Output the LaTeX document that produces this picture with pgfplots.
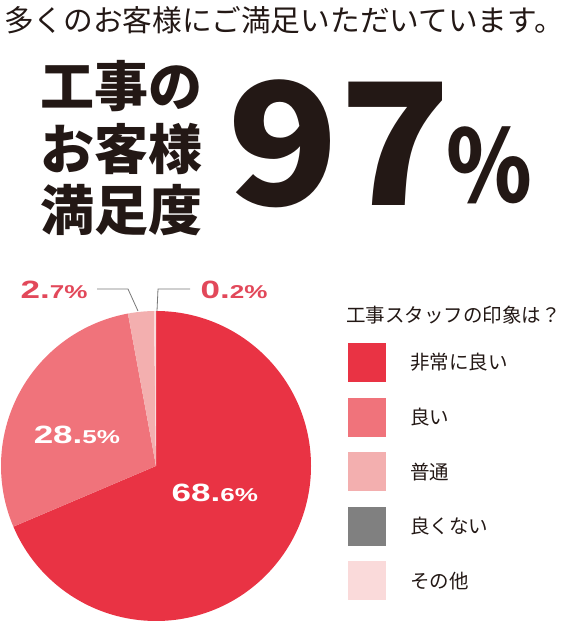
\documentclass[border=0pt]{standalone}
\usepackage{pgfplots}
\usepackage{pgfplotstable}
\pgfplotsset{compat=1.18}
\usepackage{fontspec}
\setmainfont{Noto Sans CJK JP}
\newfontfamily\jpblack[FakeStretch=1.08]{Noto Sans CJK JP Black}
\newfontfamily\jpnarrow[FakeStretch=0.87]{Noto Sans CJK JP}
\newfontfamily\wide[FakeStretch=1.4]{Liberation Sans}

\definecolor{cVery}{RGB}{233,51,68}
\definecolor{cGood}{RGB}{240,115,123}
\definecolor{cFair}{RGB}{243,175,175}
\definecolor{cBad}{RGB}{128,128,128}
\definecolor{cOther}{RGB}{250,218,218}
\definecolor{ink}{RGB}{35,24,21}
\definecolor{pctpink}{RGB}{226,72,90}
\definecolor{leader}{RGB}{120,120,120}

% share of answers, drawn clockwise from 12 o'clock
\pgfplotstableread{
share col
68.6 cVery
28.5 cGood
2.7 cFair
0.2 cOther
}\piedata

\newcommand\fs[1]{\fontsize{#1}{#1}\selectfont}
\newcommand\pct[2]{{\wide\bfseries\fs{25}#1}{\wide\bfseries\fs{18.6}#2}}

\begin{document}
\begin{tikzpicture}[x=1pt,y=1pt]
\path[use as bounding box] (0,0) rectangle (568,621);

% headline
\node[anchor=west, inner sep=0, text=ink] at (4,601) {\fs{29.7}多くのお客様にご満足いただいています。};
\node[anchor=west, inner sep=0, text=ink] at (40,534.5) {\bfseries\fs{54}工事の};
\node[anchor=west, inner sep=0, text=ink] at (40,472) {\bfseries\fs{54}お客様};
\node[anchor=west, inner sep=0, text=ink] at (40,411) {\bfseries\fs{54}満足度};
\node[anchor=base west, inner sep=0, text=ink] at (227,415)
  {\makebox[0pt][l]{\hspace{219pt}\raisebox{3pt}{\jpnarrow\bfseries\fs{100}\%}}\jpblack\fs{170}97};

\begin{axis}[
  at={(156pt,155pt)}, anchor=center,
  width=310pt, height=310pt, scale only axis,
  hide axis, clip=false,
  xmin=-1, xmax=1, ymin=-1, ymax=1]
\def\angA{90}
\pgfplotsforeachungrouped \i in {0,...,3}{%
  \pgfplotstablegetelem{\i}{share}\of\piedata \let\share\pgfplotsretval
  \pgfplotstablegetelem{\i}{col}\of\piedata \let\col\pgfplotsretval
  \pgfmathsetmacro\angB{\angA-3.6*\share}
  \edef\slice{\noexpand\fill[\col] (axis cs:0,0) -- (axis cs:{cos(\angA)},{sin(\angA)})
    arc[start angle=\angA, end angle=\angB, radius=155pt] -- cycle;}
  \slice
  \global\let\angA\angB
}
\node[anchor=base west, inner sep=0, text=white] at (axis cs:0.1,-0.226) {\pct{68.}{6\%}};
\node[anchor=base west, inner sep=0, text=white] at (axis cs:-0.79,0.148) {\pct{28.}{5\%}};
\end{axis}

% small shares with leader lines
\node[anchor=base west, inner sep=0, text=pctpink] at (20.5,322) {\pct{2.}{7\%}};
\node[anchor=base west, inner sep=0, text=pctpink] at (200.5,322) {\pct{0.}{2\%}};
\draw[leader, line width=0.8pt] (97,332) -- (128,332) -- (138,310);
\draw[leader, line width=0.8pt] (190,332) -- (158,332) -- (157,310);

% legend
\node[anchor=west, inner sep=0, text=ink] at (346,306) {\fs{19.5}工事スタッフの印象は？};
\foreach \c/\t [count=\k from 0] in {cVery/非常に良い, cGood/良い, cFair/普通, cBad/良くない, cOther/その他}{
  \pgfmathsetmacro\yc{621-362.5-54.6*\k}
  \fill[\c] (348,\yc-19.5) rectangle (386,\yc+19.5);
  \node[anchor=west, inner sep=0, text=ink] at (410,\yc) {\fs{19.5}\t};
}
\end{tikzpicture}
\end{document}
